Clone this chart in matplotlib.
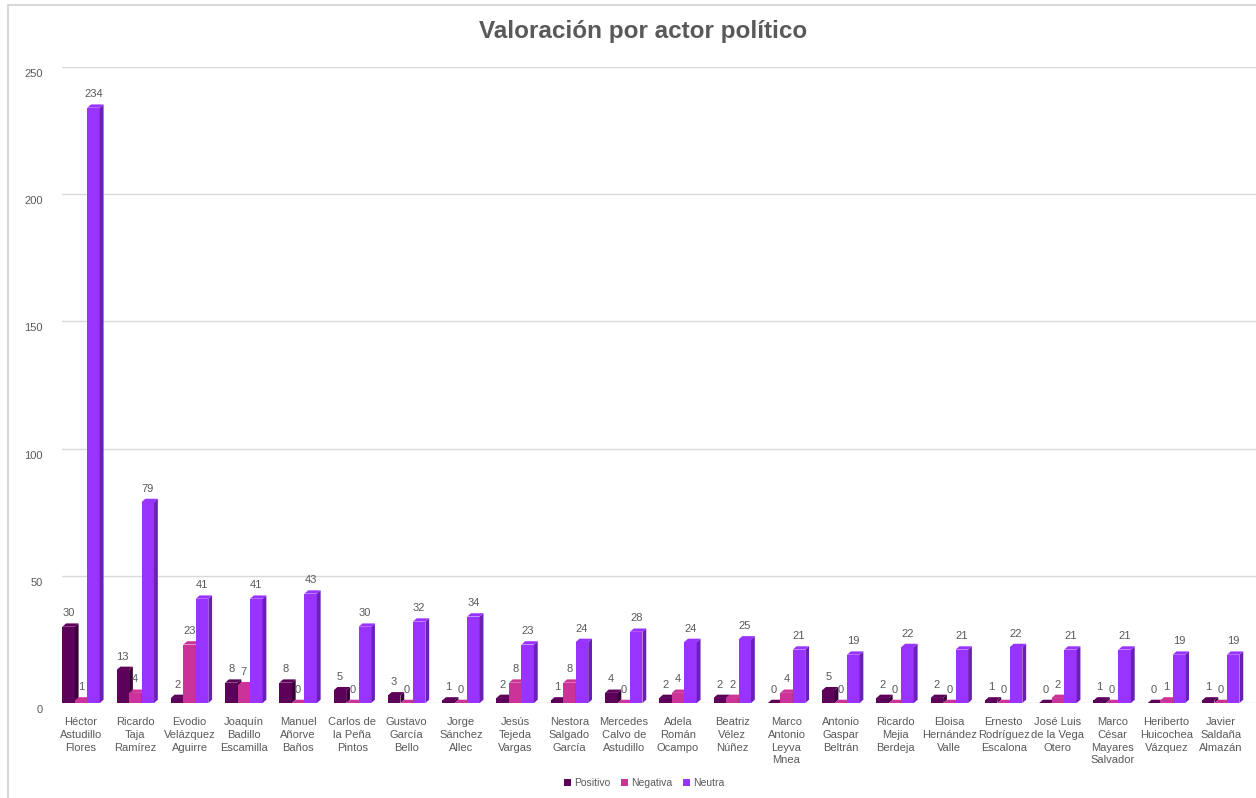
import numpy as np
from matplotlib import pyplot as plt
from matplotlib.patches import Polygon, Rectangle
from matplotlib.transforms import ScaledTranslation

# datos
actores = ["Héctor\nAstudillo\nFlores", "Ricardo\nTaja\nRamírez", "Evodio\nVelázquez\nAguirre",
           "Joaquín\nBadillo\nEscamilla", "Manuel\nAñorve\nBaños", "Carlos de\nla Peña\nPintos",
           "Gustavo\nGarcía\nBello", "Jorge\nSánchez\nAllec", "Jesús\nTejeda\nVargas",
           "Nestora\nSalgado\nGarcía", "Mercedes\nCalvo de\nAstudillo", "Adela\nRomán\nOcampo",
           "Beatriz\nVélez\nNúñez", "Marco\nAntonio\nLeyva\nMnea", "Antonio\nGaspar\nBeltrán",
           "Ricardo\nMejia\nBerdeja", "Eloisa\nHernández\nValle", "Ernesto\nRodríguez\nEscalona",
           "José Luis\nde la Vega\nOtero", "Marco\nCésar\nMayares\nSalvador", "Heriberto\nHuicochea\nVázquez",
           "Javier\nSaldaña\nAlmazán"]
positivo = [30, 13, 2, 8, 8, 5, 3, 1, 2, 1, 4, 2, 2, 0, 5, 2, 2, 1, 0, 1, 0, 1]
negativa = [1, 4, 23, 7, 0, 0, 0, 0, 8, 8, 0, 4, 2, 4, 0, 0, 0, 0, 2, 0, 1, 0]
neutra = [234, 79, 41, 41, 43, 30, 32, 34, 23, 24, 28, 24, 25, 21, 19, 22, 21, 22, 21, 21, 19, 19]
series = ["Positivo", "Negativa", "Neutra"]
colores = ["#5C005A", "#CC3399", "#9933FF"]
lados = ["#3A0039", "#991F70", "#6A1FB8"]

gris = "#595959"
plt.rcParams['font.family'] = ['Liberation Sans', 'DejaVu Sans']

fig = plt.figure(figsize=(12.56, 7.98), dpi=100)
fig.patches.append(Rectangle((0.006, -0.01), 1.1, 1.004, transform=fig.transFigure,
                             fill=False, edgecolor="#D0D0D0", lw=1.2))
ax = fig.add_axes([0.0494, 0.119, 0.9506, 0.797])

x = np.arange(len(actores))
w = 0.23
dx = 0.07   # profundidad
dy = 1.3
for k, (vals, c, cl) in enumerate(zip([positivo, negativa, neutra], colores, lados)):
    xs = x + (k - 1) * w
    ax.bar(xs, vals, w, color=c, label=series[k], zorder=3)
    for xi, h in zip(xs, vals):
        r = xi + w / 2
        l = xi - w / 2
        ax.add_patch(Polygon([(r, 0), (r + dx, dy), (r + dx, h + dy), (r, h)],
                             closed=True, facecolor=cl, edgecolor="none", zorder=3))
        ax.add_patch(Polygon([(l, h), (l + dx, h + dy), (r + dx, h + dy), (r, h)],
                             closed=True, facecolor=c, edgecolor="none", zorder=3))
        ax.text(xi, h + dy + 2.0, str(h), ha="center", va="bottom", fontsize=8, color=gris, zorder=4)

ax.set_ylim(0, 250)
ax.set_xlim(-0.35, 21.65)
ax.set_yticks(range(0, 251, 50))
ax.yaxis.grid(True, color="#D9D9D9", lw=1)
ax.set_axisbelow(True)
for s in ax.spines.values():
    s.set_visible(False)
ax.tick_params(axis="y", length=0, pad=14, labelsize=8, labelcolor=gris)
ax.tick_params(axis="x", length=0, pad=10, labelsize=8, labelcolor=gris)
for t in ax.get_yticklabels():
    t.set_transform(t.get_transform() + ScaledTranslation(0, -0.06, fig.dpi_scale_trans))
ax.set_xticks(x)
ax.set_xticklabels(actores, linespacing=1.35)

fig.text(0.512, 0.96, "Valoración por actor político", ha="center", va="center",
         fontsize=17.5, fontweight="bold", color=gris)

h, lbl = ax.get_legend_handles_labels()
fig.legend(h, lbl, loc="center", bbox_to_anchor=(0.513, 0.019), ncol=3, frameon=False,
           fontsize=7.5, handlelength=0.7, handleheight=0.7, handletextpad=0.3,
           columnspacing=1.0, labelcolor=gris)

fig.savefig("out.png", dpi=100)
